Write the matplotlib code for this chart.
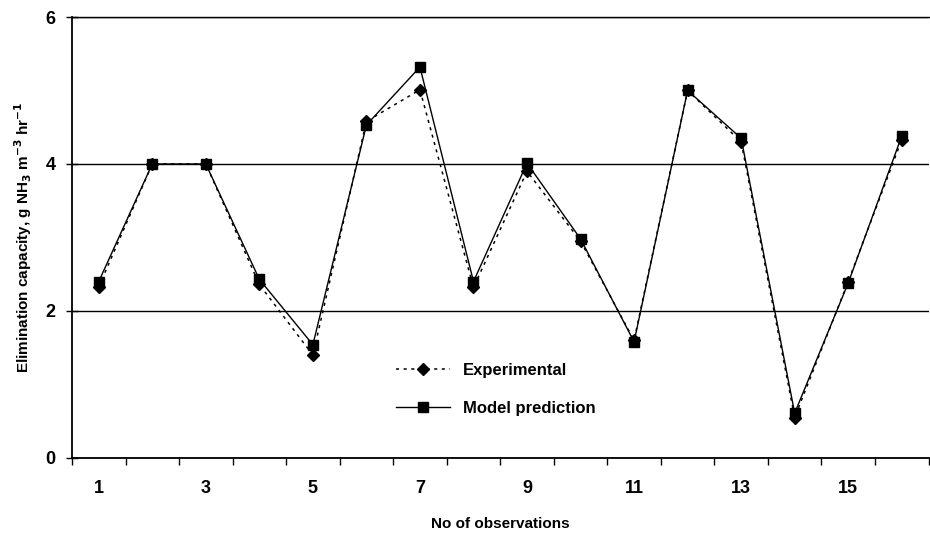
import numpy as np
import matplotlib.pyplot as plt
from matplotlib.ticker import FixedLocator

# Observation index and elimination capacity values (g NH3 m-3 hr-1)
OBS = list(range(1, 17))
EXPERIMENTAL = [2.33, 4.00, 4.00, 2.36, 1.40, 4.58, 5.01, 2.32,
                3.90, 2.95, 1.60, 5.00, 4.30, 0.55, 2.40, 4.33]
MODEL = [2.40, 4.00, 4.00, 2.43, 1.54, 4.53, 5.32, 2.40,
         4.01, 2.98, 1.58, 5.00, 4.35, 0.61, 2.38, 4.38]
X_LABELS = ["1", "3", "5", "7", "9", "11", "13", "15"]

plt.rcParams["font.family"] = ["Liberation Sans Narrow", "Liberation Sans", "DejaVu Sans"]
plt.rcParams["font.weight"] = "bold"
plt.rcParams["mathtext.default"] = "bf"

fig = plt.figure(figsize=(9.3, 5.4), dpi=100)
ax = fig.add_axes([0.0774, 0.152, 0.921, 0.8165])

ax.plot(OBS, EXPERIMENTAL, linestyle=(0, (2, 3)), color="black", linewidth=1.1,
        marker="D", markersize=6, label="Experimental")
ax.plot(OBS, MODEL, linestyle="-", color="black", linewidth=1.0,
        marker="s", markersize=7, label="Model prediction")

ax.set_xlim(0.5, 16.5)
ax.set_ylim(0, 6)
ax.set_yticks([0, 2, 4, 6])
ax.yaxis.grid(True, color="black", linewidth=1.0)
ax.set_axisbelow(True)

# category-style x axis: ticks between categories, labels on odd ones
ax.xaxis.set_major_locator(FixedLocator(np.arange(0.5, 17, 1.0)))
ax.xaxis.set_minor_locator(FixedLocator([1, 3, 5, 7, 9, 11, 13, 15]))
ax.set_xticklabels([], minor=False)
ax.set_xticklabels(X_LABELS, minor=True)
ax.tick_params(axis="x", which="major", direction="out", length=5, width=1)
ax.tick_params(axis="x", which="minor", length=0, pad=16, labelsize=13)
ax.tick_params(axis="y", direction="inout", length=8, width=1, labelsize=13, pad=8)

ax.spines["right"].set_visible(False)
ax.spines["top"].set_linewidth(1.0)
for side in ["left", "bottom"]:
    ax.spines[side].set_linewidth(1.3)

ax.set_xlabel("No of observations", fontsize=11, fontweight="bold", labelpad=14)
ax.set_ylabel("Elimination capacity, g NH$_3$ m$^{-3}$ hr$^{-1}$", fontsize=11,
              fontweight="bold", labelpad=8)

ax.legend(loc="center left", bbox_to_anchor=(0.371, 0.155), frameon=False,
          fontsize=12, handlelength=3.2, labelspacing=1.4, borderaxespad=0,
          handletextpad=0.8)

fig.savefig("out.png", dpi=100)
